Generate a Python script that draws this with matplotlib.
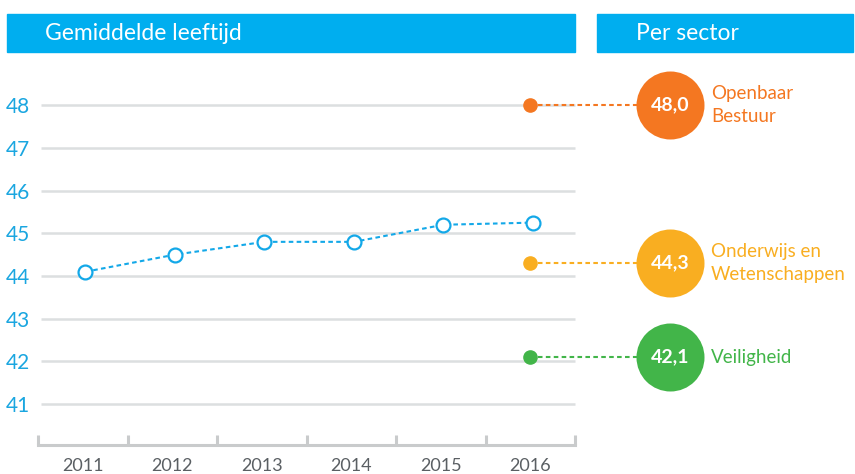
import matplotlib
matplotlib.use("Agg")
import matplotlib.pyplot as plt
from matplotlib.patches import Rectangle
import numpy as np

# ---- data ----
years = ["2011", "2012", "2013", "2014", "2015", "2016"]
avg_age = [44.1, 44.5, 44.8, 44.8, 45.2, 45.25]
y_ticks = [41, 42, 43, 44, 45, 46, 47, 48]
sectors = ["Openbaar\nBestuur", "Onderwijs en\nWetenschappen", "Veiligheid"]
sector_values = [48.0, 44.3, 42.1]
sector_labels = ["48,0", "44,3", "42,1"]
sector_colors = ["#f47721", "#f9ae21", "#42b549"]
header_left = "Gemiddelde leeftijd"
header_right = "Per sector"

# ---- styling ----
FONT = ["Lato", "DejaVu Sans"]
plt.rcParams["font.family"] = FONT
BLUE = "#00aeef"
LINE_BLUE = "#13a8e8"
GRID = "#dcdfe0"
AXIS = "#c9cbcc"
YEAR_COL = "#5a5f63"

W, H = 855, 474
fig = plt.figure(figsize=(W / 100, H / 100), dpi=100)

def fx(px):
    return px / W

def fy(py):
    return 1 - py / H

# header bars
for x0, x1, txt, tx in [(7, 575, header_left, 45), (597, 853, header_right, 636)]:
    fig.patches.append(Rectangle((fx(x0), fy(52)), fx(x1) - fx(x0), fy(14) - fy(52),
                                 transform=fig.transFigure, color=BLUE, zorder=0))
    fig.text(fx(tx), fy(33), txt, color="white", fontsize=16.5, fontweight="normal",
             va="center", ha="left")

# main axes in pixel-consistent data coordinates
ppu_y = 42.7
y48 = 105.2
ppu_x = 89.5
x0px = 38
ylim = (40.04, 49.0)
top_px = y48 - (ylim[1] - 48) * ppu_y
bot_px = y48 + (48 - ylim[0]) * ppu_y
ax = fig.add_axes([fx(x0px), fy(bot_px), 1 - fx(x0px), fy(top_px) - fy(bot_px)])
ax.set_xlim(0, (W - x0px) / ppu_x)
ax.set_ylim(*ylim)
ax.set_facecolor("none")

for s in ["top", "right", "left"]:
    ax.spines[s].set_visible(False)
ax.spines["bottom"].set_bounds(0, len(years))
ax.spines["bottom"].set_color(AXIS)
ax.spines["bottom"].set_linewidth(2.2)

# gridlines
for v in y_ticks:
    ax.plot([0.034, len(years)], [v, v], color=GRID, lw=1.8, zorder=1, solid_capstyle="butt")

# ticks
ax.set_xticks(np.arange(len(years) + 1))
ax.set_xticklabels([])
ax.tick_params(axis="x", which="major", direction="in", length=7.5, width=2.2, color=AXIS)
xpos = np.arange(len(years)) + 0.5
ax.set_xticks(xpos, minor=True)
ax.set_xticklabels(years, minor=True)
ax.tick_params(axis="x", which="minor", length=0, pad=9, labelsize=13, labelcolor=YEAR_COL)

ax.set_yticks(y_ticks)
ax.set_yticklabels([str(v) for v in y_ticks])
ax.tick_params(axis="y", length=0, pad=5.5, labelsize=15, labelcolor="#1aa6e0")

# main line
line_x = xpos + 0.03
ax.plot(line_x, avg_age, color=LINE_BLUE, lw=1.5, linestyle=(0, (2.2, 1.6)), zorder=3,
        marker="o", markersize=10, markerfacecolor="white", markeredgecolor=LINE_BLUE,
        markeredgewidth=1.6)

# sector section
dot_x = len(years) - 0.5
circ_x = (670 - x0px) / ppu_x
lab_x = (711 - x0px) / ppu_x
for name, val, lab, col in zip(sectors, sector_values, sector_labels, sector_colors):
    ax.plot([dot_x, circ_x], [val, val], color=col, lw=1.5, linestyle=(0, (2.2, 1.6)),
            zorder=4, clip_on=False)
    ax.plot([dot_x], [val], marker="o", markersize=9.5, color=col, zorder=5, clip_on=False)
    ax.scatter([circ_x], [val], s=(68 * 0.72) ** 2, color=col, zorder=6, linewidths=0,
               clip_on=False)
    ax.text(circ_x, val, lab, color="white", fontsize=14, fontweight="bold",
            ha="center", va="center", zorder=7)
    ax.text(lab_x, val, name, color=col, fontsize=13.5, ha="left", va="center",
            linespacing=1.4, zorder=7)

fig.savefig("out.png", dpi=100)
